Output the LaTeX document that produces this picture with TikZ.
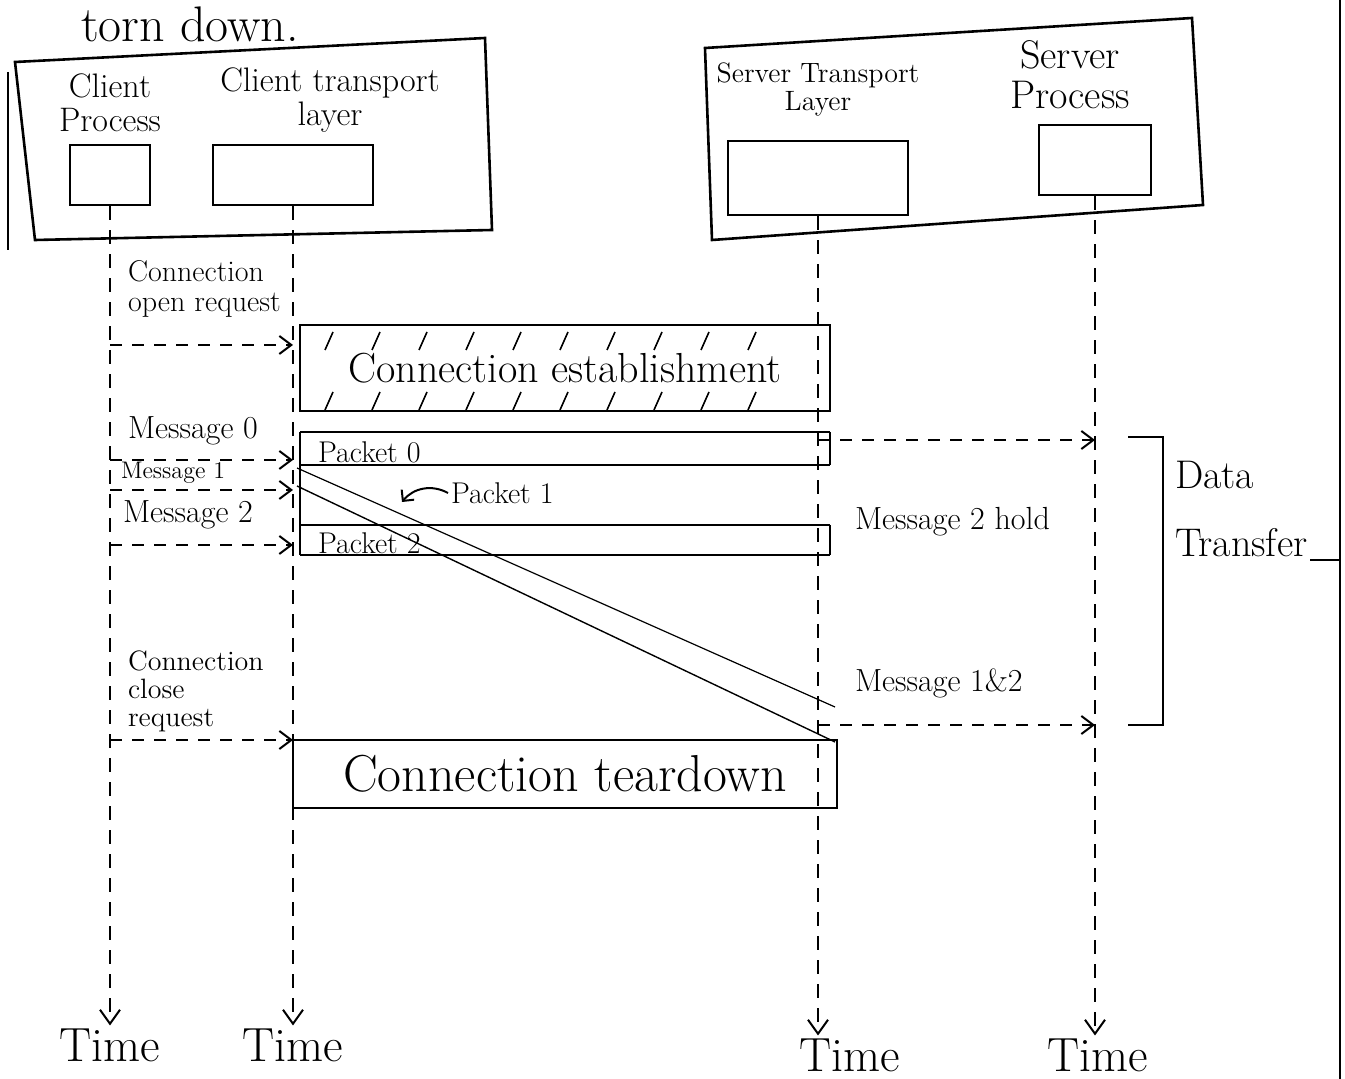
\documentclass[tikz,border=0pt]{standalone}
\usepackage{amsmath}
\usetikzlibrary{calc, positioning}
\usetikzlibrary{arrows.meta}

\begin{document}
\begin{tikzpicture}[x=0.5pt,y=-0.5pt,line width=1pt,
  lbl/.style={font=\fontsize{#1}{#1}\selectfont,inner sep=1pt},
  lbl/.default=16,
  framebox/.style={draw,line width=1.3pt},
  lifeline/.style={dash pattern=on 7pt off 5pt,-{Straight Barb[length=7pt,width=10pt]}},
  msgarrow/.style={dash pattern=on 6pt off 5pt,-{Straight Barb[length=6pt,width=9pt]}},
  band/.style={line width=0.9pt}]
\useasboundingbox (0,0) rectangle (1345,1079);

\node[lbl=25] (title) at (190,24) {torn down.};

\draw[framebox] (15,62) -- (485,38) -- (492,230) -- (35,240) -- cycle;
\draw[framebox] (8,72) -- (8,250);
\draw[framebox] (705,48) -- (1192,18) -- (1203,205) -- (712,240) -- cycle;

\node[framebox,minimum width=40pt,minimum height=30pt] (cp-box) at (110,175) {};
\node[framebox,minimum width=80pt,minimum height=30pt] (ct-box) at (293,175) {};
\node[framebox,minimum width=90pt,minimum height=37pt] (st-box) at (818,178) {};
\node[framebox,minimum width=56pt,minimum height=35pt] (sp-box) at (1095,160) {};

\node[lbl=17,align=center] (cp-lbl) at (110,103) {Client\\Process};
\node[lbl=17,align=center] (ct-lbl) at (330,100) {Client transport\\layer};
\node[lbl=14,align=center] (st-lbl) at (818,90) {Server Transport\\Layer};
\node[lbl=20,align=center] (sp-lbl) at (1070,75) {Server\\Process};

\node[lbl=24] (cp-time) at (110,1045) {Time};
\node[lbl=24] (ct-time) at (293,1045) {Time};
\node[lbl=24] (st-time) at (850,1055) {Time};
\node[lbl=24] (sp-time) at (1098,1055) {Time};

\foreach \who in {cp,ct,st,sp} {
  \draw[lifeline] (\who-box.south) -- (\who-box.south |- \who-time.north);
}

\foreach \row/\ypos in {open/345,m0/460,m1/490,m2/545,close/740,d0/440,d1/725} {
  \coordinate (row-\row) at (0,\ypos);
}

\foreach \row in {open,m0,m1,m2,close} {
  \draw[msgarrow] (cp-box |- row-\row) -- (ct-box |- row-\row);
}
\foreach \row in {d0,d1} {
  \draw[msgarrow] (st-box |- row-\row) -- (sp-box |- row-\row);
}

\node[lbl=15,align=left,anchor=south west] (open-lbl) at (125,320) {Connection\\open request};
\node[lbl=16,anchor=south west] (m0-lbl) at (125,448) {Message 0};
\node[lbl=12,anchor=south west] (m1-lbl) at (118,486) {Message 1};
\node[lbl=16,anchor=south west] (m2-lbl) at (120,532) {Message 2};
\node[lbl=14,align=left,anchor=south west] (close-lbl) at (125,735) {Connection\\close\\request};
\node[lbl=16,anchor=west] (hold-lbl) at (852,522) {Message 2 hold};
\node[lbl=16,anchor=west] (both-lbl) at (852,683) {Message 1\&2};

\node[draw,minimum width=265pt,minimum height=43pt,lbl=21] (estab) at (565,368) {Connection establishment};
\foreach \hx in {325,372,...,790} {
  \draw[line width=0.8pt] (\hx,350) -- ++(8,-18);
  \draw[line width=0.8pt] (\hx,410) -- ++(8,-18);
}

\foreach \ypos in {432,465,525,555} {
  \draw[band] (300,\ypos) -- (830,\ypos);
}
\draw[band] (300,432) -- (300,555);
\draw[band] (830,432) -- (830,465);
\draw[band] (830,525) -- (830,555);

\node[lbl=15,anchor=west] (pk0) at (315,452) {Packet 0};
\node[lbl=15,anchor=west] (pk1) at (448,493) {Packet 1};
\node[lbl=15,anchor=west] (pk2) at (315,543) {Packet 2};
\coordinate (pk1-tip) at (402,502);
\draw[-{Straight Barb[length=4pt]}] (pk1.west) to[bend right=40] (pk1-tip);

\coordinate (p1a-start) at (297,468);
\coordinate (p1a-end) at (835,707);
\coordinate (p1b-start) at (297,486);
\coordinate (p1b-end) at (835,742);
\draw[line width=0.6pt] (p1a-start) -- (p1a-end);
\draw[line width=0.7pt] (p1b-start) -- (p1b-end);

\node[draw,minimum width=272pt,minimum height=34pt,lbl=26] (teardown) at (565,774) {Connection teardown};

\coordinate (dt-top) at (1128,437);
\coordinate (dt-bot) at (1128,725);
\draw[line width=1.2pt] (dt-top) -- ++(35,0) |- (dt-bot);
\node[lbl=20,align=left,anchor=north west] (dt-lbl) at (1172,458) {Data\\[14pt]Transfer};

\coordinate (rborder-top) at (1340,0);
\coordinate (rborder-bot) at (1340,1079);
\draw[line width=1.2pt] (rborder-top) -- (rborder-bot);
\draw (dt-lbl.south east) -- (dt-lbl.south east -| rborder-top);
\end{tikzpicture}
\end{document}
